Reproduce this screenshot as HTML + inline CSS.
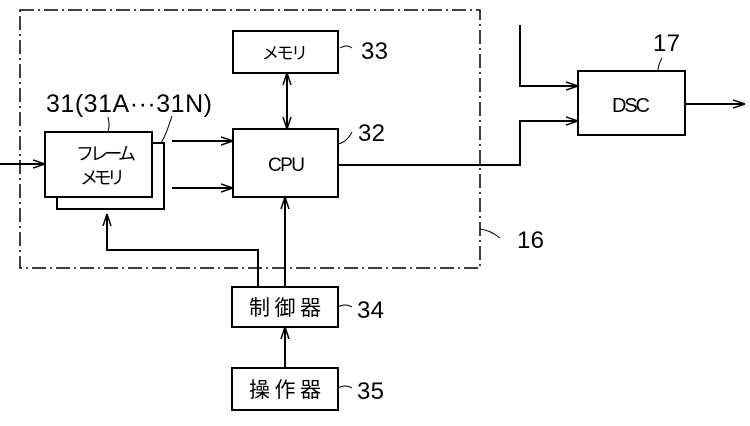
<!DOCTYPE html>
<html><head><meta charset="utf-8"><style>body{margin:0;background:#fff}svg{display:block}text{font-family:"Liberation Sans","Noto Sans CJK JP",sans-serif;fill:#000}</style></head><body>
<svg width="750" height="426" viewBox="0 0 750 426" xmlns="http://www.w3.org/2000/svg">
<defs><marker id="a" viewBox="0 0 12 10" refX="12" refY="5" markerWidth="12" markerHeight="10" markerUnits="userSpaceOnUse" orient="auto"><path d="M0,1 L12,5 L0,9" fill="none" stroke="#000" stroke-width="1.5"/></marker></defs>
<g fill="none" stroke="#000" stroke-width="2">
<rect x="20" y="10" width="460" height="258" stroke-width="1.5" stroke-dasharray="14,4,2,4"/>
<rect x="57" y="143" width="107" height="66"/>
<rect x="45" y="132" width="107" height="65" fill="#fff"/>
<rect x="233" y="31" width="105" height="42"/>
<rect x="233" y="129" width="105" height="68"/>
<rect x="232" y="287" width="106" height="40"/>
<rect x="232" y="368" width="106" height="42"/>
<rect x="578" y="71" width="107" height="64"/>
</g>
<g fill="none" stroke="#000" stroke-width="2" marker-end="url(#a)">
<path d="M0,164 H45"/>
<path d="M172,141 H233"/>
<path d="M172,188 H233"/>
<path d="M287,100 V73"/>
<path d="M287,100 V129"/>
<path d="M285,287 V197"/>
<path d="M285,368 V327"/>
<path d="M258,287 V250 H107 V214"/>
<path d="M338,165 H520 V121 H578"/>
<path d="M520,25 V86 H578"/>
<path d="M685,104 H745"/>
</g>
<g fill="none" stroke="#000" stroke-width="1">
<path d="M108,132 Q110,125 108,117"/>
<path d="M161,143 Q166,135 172,116"/>
<path d="M340,48 Q347,44 352,48"/>
<path d="M338,144 Q347,142 352,132"/>
<path d="M338,307 Q345,303 352,307"/>
<path d="M338,388 Q345,384 352,388"/>
<path d="M658,71 Q658,65 662,58"/>
<path d="M480,229 Q490,230 500,238"/>
</g>
<text x="76" y="160" font-size="18" textLength="60">フレーム</text>
<text x="80" y="184" font-size="18" textLength="45">メモリ</text>
<text x="262" y="59" font-size="17" textLength="46">メモリ</text>
<text x="268" y="171" font-size="19" textLength="37">CPU</text>
<text x="249" y="315" font-size="21" textLength="72">制御器</text>
<text x="249" y="397" font-size="21" textLength="72">操作器</text>
<text x="612" y="112" font-size="20" textLength="38">DSC</text>
<text x="46" y="112" font-size="25" textLength="166">31(31A···31N)</text>
<text x="361" y="59" font-size="24" textLength="27">33</text>
<text x="358" y="141" font-size="24" textLength="27">32</text>
<text x="357" y="318" font-size="24" textLength="27">34</text>
<text x="357" y="399" font-size="24" textLength="27">35</text>
<text x="653" y="51" font-size="24" textLength="27">17</text>
<text x="517" y="248" font-size="24" textLength="27">16</text>
</svg>
</body></html>
